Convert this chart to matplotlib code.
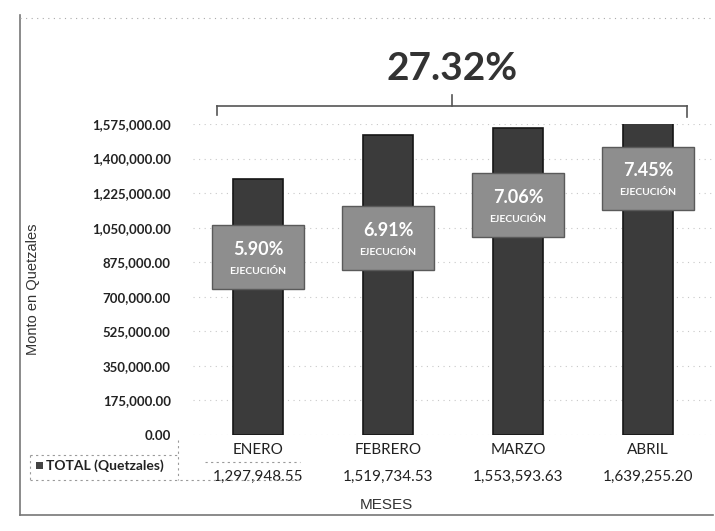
import matplotlib.pyplot as plt
from matplotlib.lines import Line2D
from matplotlib.patches import Rectangle

# datos del grafico
meses = ["ENERO", "FEBRERO", "MARZO", "ABRIL"]
montos = [1297948.55, 1519734.53, 1553593.63, 1639255.20]
ejecucion = ["5.90%", "6.91%", "7.06%", "7.45%"]
total_ejecucion = "27.32%"
ticks_y = [0, 175000, 350000, 525000, 700000, 875000, 1050000, 1225000, 1400000, 1575000]

fuente = "Lato"
W, H = 715, 531

fig = plt.figure(figsize=(7.15, 5.31), dpi=100)
ax = fig.add_axes([193 / W, 1 - 435 / H, 520 / W, 311 / H])

x = list(range(len(meses)))
ax.bar(x, montos, width=0.39, color="#3b3b3b", edgecolor="#151515", linewidth=1.2, zorder=3)

ax.set_xlim(-0.5, 3.5)
ax.set_ylim(0, 1575000)
ax.set_yticks(ticks_y)
ax.set_yticklabels([f"{v:,.2f}" for v in ticks_y], fontfamily=fuente, fontweight="bold",
                   fontsize=9.5, color="#222222")
ax.tick_params(axis="y", length=0, pad=16)
ax.set_xticks([])
for s in ax.spines.values():
    s.set_visible(False)
ax.grid(axis="y", color="#c8c8c8", linestyle=(0, (1, 4)), linewidth=0.8, zorder=0)

# cajas de ejecucion (posicion vertical de cada caja)
caja_y = [901000, 998000, 1165000, 1301000]
for i, p in enumerate(ejecucion):
    ax.add_patch(Rectangle((i - 0.355, caja_y[i] - 160000), 0.71, 320000,
                           facecolor="#8e8e8e", edgecolor="#5a5a5a", linewidth=1, zorder=4))
    ax.text(i, caja_y[i] + 40000, p, ha="center", va="center", color="white",
            fontfamily=fuente, fontweight="bold", fontsize=13, zorder=5)
    ax.text(i, caja_y[i] - 75000, "EJECUCIÓN", ha="center", va="center", color="white",
            fontfamily=fuente, fontweight="bold", fontsize=7.5, zorder=5)

# total y llave
fig.text(452 / W, 1 - 68 / H, total_ejecucion, ha="center", va="center",
         fontfamily=fuente, fontweight="bold", fontsize=28, color="#333333")
ly = 1 - 106 / H
llave = dict(color="#555555", lw=1.2)
fig.add_artist(Line2D([217 / W, 687 / W], [ly, ly], **llave))
fig.add_artist(Line2D([217 / W, 217 / W], [ly, 1 - 115 / H], **llave))
fig.add_artist(Line2D([687 / W, 687 / W], [ly, 1 - 117 / H], **llave))
fig.add_artist(Line2D([452 / W, 452 / W], [ly, 1 - 95 / H], **llave))

# tabla de datos
for i, m in enumerate(meses):
    ax.text(i, -75000, m, ha="center", va="center", fontfamily=fuente, fontsize=11,
            color="#222222")
    ax.text(i, -210000, f"{montos[i]:,.2f}", ha="center", va="center", fontfamily=fuente,
            fontsize=11, color="#222222")
fig.add_artist(Rectangle((36 / W, 1 - 469 / H), 7 / W, 7 / H, transform=fig.transFigure,
                         facecolor="#444444", edgecolor="none"))
fig.text(46 / W, 1 - 466 / H, "TOTAL (Quetzales)", ha="left", va="center",
         fontfamily=fuente, fontweight="bold", fontsize=10, color="#222222")
punteada = dict(color="#9a9a9a", lw=0.8, linestyle=(0, (2, 3)))
fig.add_artist(Line2D([30 / W, 178 / W], [1 - 455 / H, 1 - 455 / H], **punteada))
fig.add_artist(Line2D([30 / W, 300 / W], [1 - 480 / H, 1 - 480 / H], **punteada))
fig.add_artist(Line2D([30 / W, 30 / W], [1 - 455 / H, 1 - 480 / H], **punteada))
fig.add_artist(Line2D([178 / W, 178 / W], [1 - 440 / H, 1 - 480 / H], **punteada))
fig.add_artist(Line2D([205 / W, 300 / W], [1 - 462 / H, 1 - 462 / H], **punteada))

ax.set_ylabel("Monto en Quetzales", fontfamily="Liberation Sans", fontsize=10.5,
              color="#333333")
ax.yaxis.set_label_coords(-(193 - 40) / 520, 0.47)
fig.text(386 / W, 1 - 505 / H, "MESES", ha="center", va="center",
         fontfamily="Liberation Sans", fontsize=11, color="#333333")

# marco del grafico
fig.add_artist(Line2D([20 / W, 20 / W], [1 - 15 / H, 1 - 515 / H], color="#777777", lw=1.2))
fig.add_artist(Line2D([20 / W, 713 / W], [1 - 515 / H, 1 - 515 / H], color="#777777", lw=1.2))
fig.add_artist(Line2D([20 / W, 713 / W], [1 - 18 / H, 1 - 18 / H], color="#aaaaaa", lw=0.8,
                      linestyle=(0, (1, 4))))

fig.savefig("out.png", dpi=100)
